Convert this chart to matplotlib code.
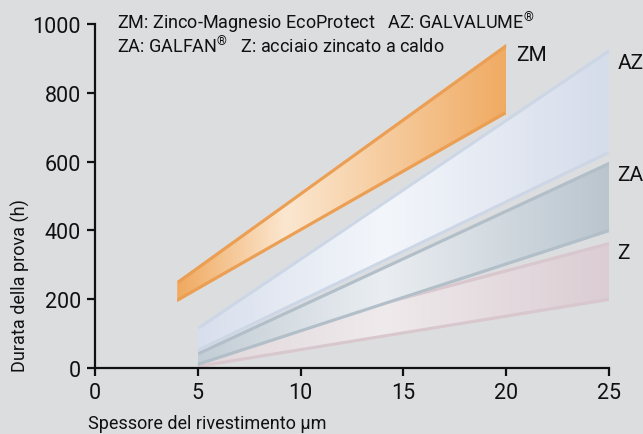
import numpy as np
import matplotlib
matplotlib.use("Agg")
import matplotlib.pyplot as plt
from matplotlib.colors import LinearSegmentedColormap
from matplotlib.patches import Polygon

plt.rcParams['font.family'] = ['Roboto', 'DejaVu Sans']
plt.rcParams['mathtext.fontset'] = 'custom'
plt.rcParams['mathtext.rm'] = 'Roboto'

# ---- data ----
bands = ['Z', 'ZA', 'AZ', 'ZM']
band_x = {'ZM': [4, 20], 'AZ': [5, 25], 'ZA': [5, 25], 'Z': [5, 25]}
band_low = {'ZM': [192, 738], 'AZ': [46, 622], 'ZA': [6, 395], 'Z': [0, 195]}
band_high = {'ZM': [253, 942], 'AZ': [120, 927], 'ZA': [46, 599], 'Z': [50, 366]}
x_ticks = [0, 5, 10, 15, 20, 25]
y_ticks = [0, 200, 400, 600, 800, 1000]
REG = "$^{\\mathregular{\u00ae}}$"
legend_lines = ["ZM: Zinco-Magnesio EcoProtect   AZ: GALVALUME" + REG,
                "ZA: GALFAN" + REG + "   Z: acciaio zincato a caldo"]
x_label = "Spessore del rivestimento \u00b5m"
y_label = "Durata della prova (h)"

# ---- styles ----
bg = '#dcdddf'
grad = {
    'ZM': [(0.0, '#f0a95f'), (0.33, '#fbe7d0'), (1.0, '#f0ab63')],
    'AZ': [(0.0, '#d8dfec'), (0.45, '#f3f6fb'), (1.0, '#d5dcea')],
    'ZA': [(0.0, '#c3cdd5'), (0.45, '#eaeef2'), (1.0, '#bac5ce')],
    'Z':  [(0.0, '#e1d7db'), (0.45, '#efeaec'), (1.0, '#dbcdd3')],
}
edge = {'ZM': '#eb9f55', 'AZ': '#ccd6e5', 'ZA': '#b2bfc9', 'Z': '#d8c7cd'}
label_pos = {'ZM': (20.5, 910), 'AZ': (25.4, 888), 'ZA': (25.4, 562), 'Z': (25.4, 336)}

fig = plt.figure(figsize=(6.43, 4.35), dpi=100, facecolor=bg)
ax = fig.add_axes([95/643, 66/435, 514/643, 344/435])
ax.set_facecolor(bg)

for i, b in enumerate(bands):
    xs = np.array(band_x[b], float)
    lo = np.array(band_low[b], float)
    hi = np.array(band_high[b], float)
    verts = [(xs[0], lo[0]), (xs[1], lo[1]), (xs[1], hi[1]), (xs[0], hi[0])]
    poly = Polygon(verts, closed=True, facecolor='none', edgecolor='none', zorder=2 + i)
    ax.add_patch(poly)
    cmap = LinearSegmentedColormap.from_list(b, grad[b])
    img = ax.imshow(np.linspace(0, 1, 256).reshape(1, -1), cmap=cmap, aspect='auto',
                    extent=[xs[0], xs[1], lo.min(), hi.max()], origin='lower',
                    zorder=2 + i, interpolation='bilinear')
    img.set_clip_path(poly)
    for ys in (lo, hi):
        ln, = ax.plot(xs, ys, color=edge[b], lw=4.5, zorder=2 + i + 0.5,
                      solid_capstyle='butt')
        ln.set_clip_path(poly)
    lx, ly = label_pos[b]
    ax.text(lx, ly, b, fontsize=15, ha='left', va='center', clip_on=False, color='#111111')

ax.set_xlim(0, 25)
ax.set_ylim(0, 1000)
ax.set_xticks(x_ticks)
ax.set_yticks(y_ticks)
for s in ['top', 'right']:
    ax.spines[s].set_visible(False)
for s in ['left', 'bottom']:
    ax.spines[s].set_linewidth(1.6)
    ax.spines[s].set_color('#111111')
    ax.spines[s].set_zorder(10)
ax.tick_params(direction='out', length=6, width=1.6, labelsize=15.5, color='#111111',
               labelcolor='#111111', pad=4)

fig.text(117/643, 1 - 23/435, legend_lines[0], fontsize=13, ha='left', va='center', color='#111111')
fig.text(117/643, 1 - 47/435, legend_lines[1], fontsize=13, ha='left', va='center', color='#111111')
fig.text(88/643, 1 - 424/435, x_label, fontsize=13, ha='left', va='center', color='#111111')
fig.text(20/643, 1 - 372/435, y_label, fontsize=13, ha='center', va='bottom', rotation=90,
         color='#111111')

fig.savefig('out.png', dpi=100, facecolor=bg)
